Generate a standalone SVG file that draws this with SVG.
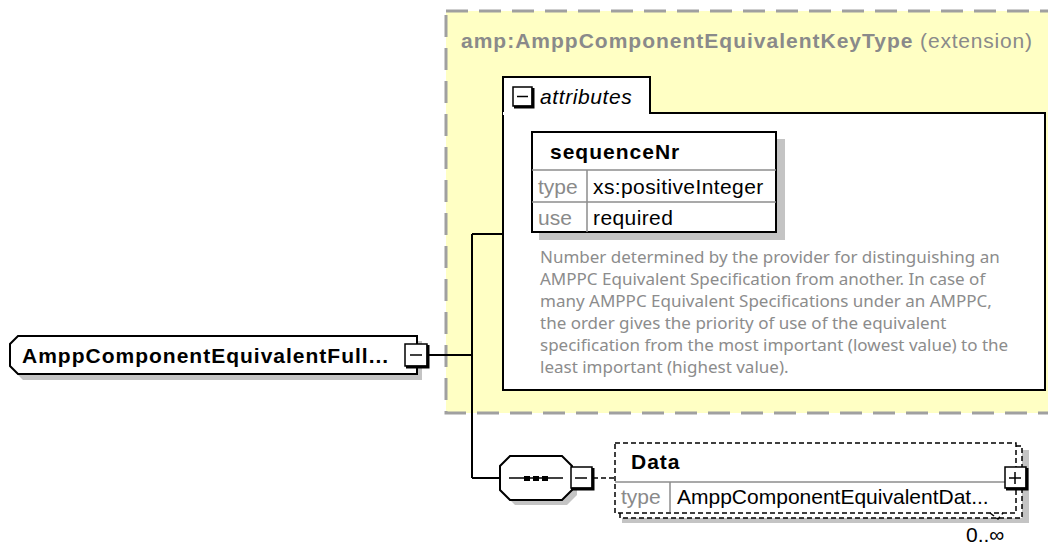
<svg xmlns="http://www.w3.org/2000/svg" width="1048" height="547" viewBox="0 0 1048 547">
  <defs>
    <style>
      .t{font-family:"Liberation Sans",Arial,sans-serif;font-size:21px;fill:#000}
      .b{font-weight:bold;letter-spacing:1px}
      .g{fill:#8a8a8a}
      .desc{font-family:"Noto Sans",Tahoma,sans-serif;font-size:17px;fill:#8c8c8c}
      .shadow{fill:#c4c4c4}
      .box{fill:#fff;stroke:#000;stroke-width:2}
      .sep{stroke:#8c8c8c;stroke-width:1.5;fill:none}
      .wire{stroke:#000;stroke-width:2;fill:none}
      .dash{stroke:#000;stroke-width:1.5;fill:none;stroke-dasharray:5 3}
      .btn{fill:#fff;stroke:#000;stroke-width:1.5}
      .btnedge{stroke:#000;stroke-width:3;fill:none}
      .sign{stroke:#000;stroke-width:1.5;fill:none}
    </style>
  </defs>
  <rect width="1048" height="547" fill="#fff"/>

  <!-- extension type container -->
  <g id="extension">
    <rect x="446" y="11" width="700" height="402" fill="#ffffc4" stroke="#a0a0a0" stroke-width="3" stroke-dasharray="22 11"/>
    <text class="t g" x="461" y="48"><tspan class="b">amp:AmppComponentEquivalentKeyType</tspan><tspan letter-spacing="0.8"> (extension)</tspan></text>
  </g>

  <!-- attributes panel -->
  <g id="attributes">
    <path d="M503,113 V77 H650 V113" fill="#fff" stroke="#000" stroke-width="2"/>
    <rect x="503" y="113" width="542" height="277" class="box"/>
    <rect x="503" y="112" width="146" height="3" fill="#fff"/>
    <rect x="513" y="87" width="19" height="19" class="btn"/>
    <path d="M514,107 H533 V88" class="btnedge"/>
    <line x1="517" y1="96.5" x2="528" y2="96.5" class="sign"/>
    <text class="t" x="540" y="104" font-style="italic" letter-spacing="0.6">attributes</text>
  </g>

  <!-- sequenceNr attribute -->
  <g id="sequenceNr">
    <rect x="539" y="139" width="246" height="101" class="shadow"/>
    <rect x="532" y="132" width="244" height="100" class="box"/>
    <line x1="532" y1="170" x2="776" y2="170" class="sep"/>
    <line x1="532" y1="202" x2="776" y2="202" class="sep"/>
    <line x1="587" y1="170" x2="587" y2="232" class="sep"/>
    <text class="t b" x="550" y="159">sequenceNr</text>
    <text class="t g" x="538" y="194">type</text>
    <text class="t" x="593" y="194" letter-spacing="0.4">xs:positiveInteger</text>
    <text class="t g" x="538" y="225">use</text>
    <text class="t" x="593" y="225" letter-spacing="0.4">required</text>
    <g class="desc">
      <text x="540" y="263">Number determined by the provider for distinguishing an</text>
      <text x="540" y="285">AMPPC Equivalent Specification from another. In case of</text>
      <text x="540" y="307">many AMPPC Equivalent Specifications under an AMPPC,</text>
      <text x="540" y="329">the order gives the priority of use of the equivalent</text>
      <text x="540" y="351">specification from the most important (lowest value) to the</text>
      <text x="540" y="373">least important (highest value).</text>
    </g>
  </g>

  <!-- connectors -->
  <g id="connectors">
    <path d="M428,355 H472 M472,234 V478 M472,234 H503 M472,478 H500" class="wire"/>
    <line x1="593" y1="478" x2="615" y2="478" class="dash"/>
  </g>

  <!-- root element -->
  <g id="root-element">
    <path d="M23,341 H422 V380 H23 L15,372 V349 Z" class="shadow"/>
    <path d="M18,336 H417 V374 H18 L10,366 V344 Z" class="box"/>
    <text class="t b" x="22" y="363">AmppComponentEquivalentFull...</text>
    <rect x="405" y="344" width="22" height="22" class="btn"/>
    <path d="M406,367 H428 V345" class="btnedge"/>
    <line x1="410" y1="355" x2="422" y2="355" class="sign"/>
  </g>

  <!-- sequence compositor -->
  <g id="sequence">
    <path d="M515,461 H567 L577,471 V495 L567,505 H515 L505,495 V471 Z" class="shadow"/>
    <path d="M510,456 H562 L572,466 V490 L562,500 H510 L500,490 V466 Z" class="box"/>
    <line x1="509" y1="478" x2="563" y2="478" class="sign"/>
    <rect x="524" y="476" width="6" height="5" fill="#000"/>
    <rect x="533" y="476" width="6" height="5" fill="#000"/>
    <rect x="542" y="476" width="6" height="5" fill="#000"/>
    <rect x="571" y="467" width="21" height="21" class="btn"/>
    <path d="M572,489 H593 V468" class="btnedge"/>
    <line x1="575" y1="478" x2="587" y2="478" class="sign"/>
  </g>

  <!-- Data element (repeating) -->
  <g id="data">
    <rect x="622" y="450" width="407" height="73" class="shadow"/>
    <rect x="615" y="443" width="407" height="75" fill="#fff"/>
    <path d="M1016,446 H1022 V518 H620 V513" class="dash"/>
    <rect x="615" y="443" width="401" height="70" class="dash"/>
    <path d="M990,513 L998,519 L1003,513" class="dash"/>
    <line x1="615" y1="482" x2="1005" y2="482" class="sep"/>
    <line x1="670" y1="482" x2="670" y2="512" class="sep"/>
    <text class="t b" x="631" y="469">Data</text>
    <text class="t g" x="621" y="504">type</text>
    <text class="t" x="677" y="504">AmppComponentEquivalentDat...</text>
    <rect x="1005" y="467" width="21" height="21" class="btn"/>
    <path d="M1006,489 H1027 V468" class="btnedge"/>
    <path d="M1009,478 H1021 M1015,472 V484" class="sign"/>
    <text class="t" x="966" y="542" font-size="20">0..∞</text>
  </g>
</svg>
